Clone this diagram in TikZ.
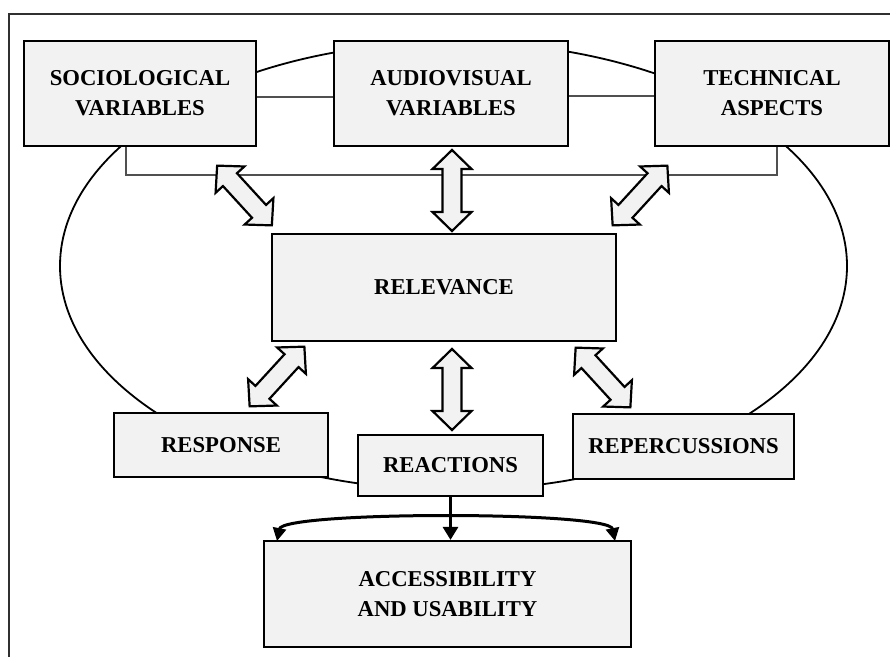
\documentclass[tikz,border=0pt]{standalone}
\usepackage{fontspec}
\setmainfont{Liberation Serif}
\usetikzlibrary{arrows.meta}
\definecolor{boxfill}{HTML}{F2F2F2}
\definecolor{thinline}{HTML}{505050}
\definecolor{framecol}{HTML}{303030}
\tikzset{
  box/.style={draw=black, line width=2.2pt, fill=boxfill, align=center,
    font=\fontsize{22.7}{30}\selectfont\bfseries, inner sep=0pt},
  thin/.style={draw=thinline, line width=1.1pt},
  dblarrow/.pic={
    \filldraw[fill=boxfill, draw=black, line width=2.2pt, line join=miter]
      (-40.5,0) -- (-21.5,19.5) -- (-21.5,9.5) -- (21.5,9.5) -- (21.5,19.5) --
      (40.5,0) -- (21.5,-19.5) -- (21.5,-9.5) -- (-21.5,-9.5) -- (-21.5,-19.5) -- cycle;
  },
  thickarrow/.style={line width=3pt, draw=black},
}
\begin{document}
\begin{tikzpicture}[x=1pt,y=-1pt]
\useasboundingbox (0,0) rectangle (890,656);
\clip (0,0) rectangle (890,656);
\fill[white] (0,0) rectangle (890,656);
% frame
\draw[framecol, line width=1.8pt] (9,14) rectangle (900,670);
% ellipse
\draw[black, line width=1.8pt] (453.5,266) ellipse [x radius=393.5pt, y radius=224pt];
% boxes
\node[box, minimum width=232, minimum height=105] (soc) at (140,93.5) {SOCIOLOGICAL\\VARIABLES};
\node[box, minimum width=234, minimum height=105] (av) at (451,93.5) {AUDIOVISUAL\\VARIABLES};
\node[box, minimum width=234, minimum height=105] (tech) at (772,93.5) {TECHNICAL\\ASPECTS};
\node[box, minimum width=344, minimum height=107] (rel) at (444,287.5) {RELEVANCE};
\node[box, minimum width=214, minimum height=64] (resp) at (221,445) {RESPONSE};
\node[box, minimum width=185, minimum height=61] (react) at (450.5,465.5) {REACTIONS};
\node[box, minimum width=221, minimum height=65] (rep) at (683.5,446.5) {REPERCUSSIONS};
\node[box, minimum width=367, minimum height=106] (acc) at (447.5,594) {ACCESSIBILITY\\AND USABILITY};
% thin connectors
\draw[thin] (soc.east |- 0,97) -- (av.west |- 0,97);
\draw[thin] (av.east |- 0,96) -- (tech.west |- 0,96);
\coordinate (bl) at (126,175);
\coordinate (br) at (777,175);
\draw[thin] (soc.south -| bl) -- (bl) -- (br) -- (tech.south -| br);
% block double arrows
\pic[rotate=-47.5] at (244.5,195.5) {dblarrow};
\pic[rotate=90] at (452,190.5) {dblarrow};
\pic[rotate=47.5] at (640,195.5) {dblarrow};
\pic[rotate=47.5] at (277,376.5) {dblarrow};
\pic[rotate=90] at (452,389.5) {dblarrow};
\pic[rotate=-47.5] at (603,377.5) {dblarrow};
% bottom arrows
\coordinate (cl) at (277,541);
\coordinate (cr) at (615,541);
\draw[thickarrow, -{Triangle[length=13pt,width=15pt]}] (react.south) -- (react.south |- acc.north);
\draw[thickarrow, {Triangle[length=13pt,width=13pt]}-{Triangle[length=13pt,width=13pt]}]
  (cl) .. controls (283,511) and (609,511) .. (cr);
\end{tikzpicture}
\end{document}
